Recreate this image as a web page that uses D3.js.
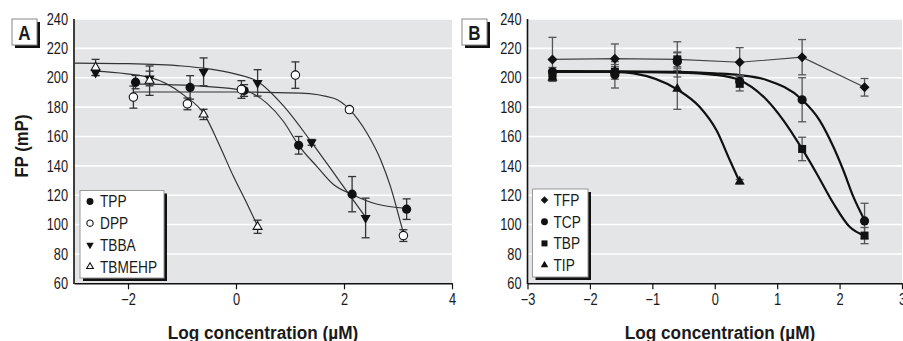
<!DOCTYPE html>
<html>
<head>
<meta charset="utf-8">
<script src="https://cdnjs.cloudflare.com/ajax/libs/d3/7.8.5/d3.min.js"></script>
<style>
  body { margin: 0; background: #fff; }
  svg { display: block; }
  text { font-family: "Liberation Sans", Arial, sans-serif; fill: #1a1a1a; }
  .tick-label { font-size: 16px; }
  .axis-title { font-weight: bold; font-size: 18.5px; }
  .legend-text { font-size: 16.5px; }
</style>
</head>
<body>
<script>
// shared y axis
var yTicks = [60, 80, 100, 120, 140, 160, 180, 200, 220, 240];

// panel A
var xTicksA = [-2, 0, 2, 4];
// [log conc, FP, error]
var tppPoints = [[-1.86, 197, 4.5], [-0.85, 193.4, 8], [0.15, 191.3, 4], [1.16, 154, 6], [2.15, 120.7, 12], [3.16, 110.5, 7]];
var dppPoints = [[-1.9, 186.8, 7.5], [-0.9, 182.2, 4], [0.1, 192, 6], [1.1, 201.8, 9], [2.1, 178.3, 1.5], [3.1, 92.5, 4]];
var tbbaPoints = [[-2.6, 203.5, 2], [-1.6, 199.5, 5], [-0.6, 204, 9.5], [0.4, 196.5, 9], [1.4, 156, 2], [2.4, 104.5, 13.5]];
var tbmehpPoints = [[-2.6, 207, 5.5], [-1.6, 198, 10], [-0.6, 175, 3.5], [0.4, 98.5, 4.5]];
// fitted curves
var tppCurve = [[-1.9, 195.8], [-0.85, 194.7], [0.15, 191.3], [0.57, 182.7], [0.88, 170.2], [1.16, 154], [1.5, 139.5], [1.8, 127.5], [2.15, 120.5], [2.6, 114], [3.16, 111]];
var dppCurve = [[-1.9, 190.3], [0, 190.3], [1.19, 189.5], [1.81, 186], [2.1, 178.5], [2.43, 162], [2.68, 144], [2.86, 126], [3.05, 101], [3.11, 93]];
var tbbaCurve = [[-3, 210], [-2, 209.6], [-1, 208], [-0.6, 206.5], [0, 202.5], [0.4, 197.5], [0.9, 180], [1.4, 156], [1.9, 130.5], [2.4, 105]];
var tbmehpCurve = [[-2.6, 204.5], [-1.6, 200.2], [-0.96, 188], [-0.59, 175.2], [-0.3, 153.5], [-0.05, 133], [0.2, 114.5], [0.4, 99]];

// panel B
var xTicksB = [-3, -2, -1, 0, 1, 2, 3];
var tfpPoints = [[-2.6, 212.5, 15], [-1.6, 213, 10], [-0.6, 212.5, 12], [0.4, 210.5, 10], [1.4, 214, 12], [2.4, 193.5, 6]];
var tcpPoints = [[-2.6, 204, 3], [-1.6, 202, 9], [-0.6, 211, 6], [0.4, 197.5, 4], [1.4, 185, 15], [2.4, 102.5, 12]];
var tbpPoints = [[-2.6, 202, 3], [-1.6, 204, 5], [-0.6, 212.5, 5], [0.4, 196, 5], [1.4, 151.5, 8], [2.4, 92.5, 5.5]];
var tipPoints = [[-2.6, 200, 2], [-1.6, 204.5, 3], [-0.6, 192.5, 14], [0.4, 129.2, 1.5]];
var tcpCurve = [[-2.6, 204.5], [-1.6, 204.3], [-0.6, 204], [0, 203], [0.4, 201.8], [0.83, 198.5], [1.4, 185], [1.68, 171], [1.9, 153], [2.06, 137], [2.22, 119], [2.4, 103]];
var tbpCurve = [[-2.6, 204], [-1.6, 204], [-0.6, 203.5], [0, 202], [0.4, 198.3], [0.83, 185], [1.1, 171], [1.4, 151.5], [1.63, 135], [1.9, 114.5], [2.16, 98.5], [2.4, 92.5]];
var tipCurve = [[-2.6, 204.5], [-1.6, 204], [-1.3, 203], [-0.6, 192], [-0.24, 180], [0.03, 164], [0.24, 144], [0.4, 129]];

var W = 903, H = 341;
var svg = d3.select("body").append("svg").attr("width", W).attr("height", H);

// condensed look: squeeze text horizontally around its anchor
function squeeze(x, y, sx) {
  return "translate(" + x + "," + y + ") scale(" + sx + ",1)";
}

// marker shapes
function marker(g, kind, size) {
  var s = size || 1;
  if (kind == "dot") {
    g.append("circle").attr("r", 4.6 * s).attr("fill", "#111");
  } else if (kind == "ring") {
    g.append("circle").attr("r", 4.2 * s).attr("fill", "#fff").attr("stroke", "#111").attr("stroke-width", 1.1);
  } else if (kind == "down") {
    g.append("path").attr("d", d3.symbol(d3.symbolTriangle, 44 * s * s)()).attr("transform", "rotate(180)").attr("fill", "#111");
  } else if (kind == "up") {
    g.append("path").attr("d", d3.symbol(d3.symbolTriangle, 34 * s * s)()).attr("fill", "#fff").attr("stroke", "#111").attr("stroke-width", 1.1);
  } else if (kind == "upfill") {
    g.append("path").attr("d", d3.symbol(d3.symbolTriangle, 44 * s * s)()).attr("fill", "#111");
  } else if (kind == "diamond") {
    g.append("path").attr("d", d3.symbol(d3.symbolSquare, 50 * s * s)()).attr("transform", "rotate(45)").attr("fill", "#111");
  } else if (kind == "square") {
    g.append("path").attr("d", d3.symbol(d3.symbolSquare, 64 * s * s)()).attr("fill", "#111");
  }
}

function drawPanel(opt) {
  var x = d3.scaleLinear().domain(opt.xDomain).range([opt.left, opt.right]);
  var y = d3.scaleLinear().domain([60, 240]).range([283.3, 19]);
  var g = svg.append("g");

  // plot background + gridlines
  g.append("rect")
    .attr("x", opt.left).attr("y", 19)
    .attr("width", opt.right - opt.left).attr("height", 283.3 - 19)
    .attr("fill", "#e4e5e7");
  g.append("g").selectAll("line")
    .data(yTicks.slice(1))
    .enter().append("line")
    .attr("x1", opt.left).attr("x2", opt.right)
    .attr("y1", d => y(d)).attr("y2", d => y(d))
    .attr("stroke", "#fff").attr("stroke-width", 1.6);

  // y labels
  g.append("g").selectAll("text")
    .data(yTicks)
    .enter().append("text")
    .attr("class", "tick-label")
    .attr("transform", d => squeeze(opt.left - 6, y(d), 0.8))
    .attr("dy", "0.36em")
    .attr("text-anchor", "end")
    .text(d => d);

  // x axis
  var xAxis = d3.axisBottom(x).tickValues(opt.xTicks).tickSize(6).tickSizeOuter(0).tickFormat(d3.format("d"));
  var ax = g.append("g")
    .attr("transform", "translate(0," + 283.3 + ")")
    .call(xAxis);
  ax.attr("font-family", null).attr("font-size", null);
  ax.select(".domain").attr("stroke", "#111").attr("stroke-width", 1.6);
  ax.selectAll(".tick line").attr("stroke", "#111").attr("stroke-width", 1.2);
  ax.selectAll(".tick text").attr("class", "tick-label").attr("fill", null)
    .attr("y", null).attr("dy", "0.71em")
    .attr("transform", squeeze(0, 10.5, 0.8));

  // y axis line
  g.append("line")
    .attr("x1", opt.left).attr("x2", opt.left)
    .attr("y1", 19).attr("y2", 284)
    .attr("stroke", "#111").attr("stroke-width", 1.6);

  var line = d3.line().x(d => x(d[0])).y(d => y(d[1]));

  // curves
  opt.curves.forEach(function(c) {
    g.append("path")
      .attr("d", line.curve(c.linear ? d3.curveLinear : d3.curveMonotoneX)(c.data))
      .attr("fill", "none")
      .attr("stroke", c.color)
      .attr("stroke-width", c.width);
  });

  // error bars
  opt.series.forEach(function(s) {
    var eb = g.append("g").attr("stroke", opt.errColor).attr("stroke-width", 1.3);
    s.data.forEach(function(d) {
      eb.append("line").attr("x1", x(d[0])).attr("x2", x(d[0]))
        .attr("y1", y(d[1] - d[2])).attr("y2", y(d[1] + d[2]));
      [d[1] - d[2], d[1] + d[2]].forEach(function(v) {
        eb.append("line").attr("x1", x(d[0]) - 4).attr("x2", x(d[0]) + 4)
          .attr("y1", y(v)).attr("y2", y(v));
      });
    });
  });

  // markers
  opt.series.forEach(function(s) {
    s.data.forEach(function(d) {
      var m = g.append("g").attr("transform", "translate(" + x(d[0]) + "," + y(d[1]) + ")");
      marker(m, s.kind);
    });
  });

  // panel letter box
  var lb = g.append("g").attr("transform", "translate(" + opt.letterX + ",19)");
  lb.append("rect").attr("x", 3).attr("y", 3).attr("width", 25).attr("height", 26).attr("fill", "#111");
  lb.append("rect").attr("x", 0).attr("y", 0).attr("width", 25).attr("height", 26)
    .attr("fill", "#fff").attr("stroke", "#888").attr("stroke-width", 1);
  lb.append("text").attr("text-anchor", "middle")
    .attr("class", "axis-title").style("font-size", "20px")
    .attr("transform", squeeze(12.5, 20.5, 0.85))
    .text(opt.letter);

  // legend
  var lg = g.append("g").attr("transform", "translate(" + opt.legend.x + "," + opt.legend.y + ")");
  lg.append("rect").attr("x", 3).attr("y", 3).attr("width", opt.legend.w).attr("height", opt.legend.h).attr("fill", "#111");
  lg.append("rect").attr("width", opt.legend.w).attr("height", opt.legend.h)
    .attr("fill", "#fff").attr("stroke", "#999").attr("stroke-width", 1);
  opt.series.forEach(function(s, i) {
    var yy = 11 + i * 21.7;
    var m = lg.append("g").attr("transform", "translate(" + opt.legend.mx + "," + yy + ")");
    marker(m, s.kind, 0.75);
    lg.append("text").attr("class", "legend-text")
      .attr("transform", squeeze(opt.legend.tx, yy, 0.83))
      .attr("dy", "0.36em")
      .text(s.name);
  });

  // axis title
  g.append("text").attr("class", "axis-title")
    .attr("transform", squeeze(opt.titleX, 338.5, 0.93))
    .attr("text-anchor", "middle")
    .text("Log concentration (\u00b5M)");
}

drawPanel({
  left: 74, right: 452, xDomain: [-3, 4], xTicks: xTicksA,
  letter: "A", letterX: 12, titleX: 263, errColor: "#333",
  legend: { x: 80, y: 190.5, w: 84, h: 87.5, mx: 10, tx: 20 },
  series: [
    { name: "TPP", kind: "dot", data: tppPoints },
    { name: "DPP", kind: "ring", data: dppPoints },
    { name: "TBBA", kind: "down", data: tbbaPoints },
    { name: "TBMEHP", kind: "up", data: tbmehpPoints }
  ],
  curves: [
    { data: tppCurve, color: "#333", width: 1.2 },
    { data: dppCurve, color: "#333", width: 1.2 },
    { data: tbbaCurve, color: "#333", width: 1.2 },
    { data: tbmehpCurve, color: "#333", width: 1.2 }
  ]
});

drawPanel({
  left: 527.5, right: 902, xDomain: [-3, 3], xTicks: xTicksB,
  letter: "B", letterX: 462, titleX: 720, errColor: "#555",
  legend: { x: 532.5, y: 189, w: 55.5, h: 88, mx: 12, tx: 21 },
  series: [
    { name: "TFP", kind: "diamond", data: tfpPoints },
    { name: "TCP", kind: "dot", data: tcpPoints },
    { name: "TBP", kind: "square", data: tbpPoints },
    { name: "TIP", kind: "upfill", data: tipPoints }
  ],
  curves: [
    { data: tfpPoints, color: "#444", width: 1.1, linear: true },
    { data: tcpCurve, color: "#111", width: 2.2 },
    { data: tbpCurve, color: "#111", width: 2.2 },
    { data: tipCurve, color: "#111", width: 2.2 }
  ]
});

// y title (left panel only)
svg.append("text").attr("class", "axis-title")
  .attr("transform", "translate(28,146) rotate(-90) scale(0.93,1)")
  .style("font-size", "18px")
  .attr("text-anchor", "middle")
  .text("FP (mP)");
</script>
</body>
</html>
